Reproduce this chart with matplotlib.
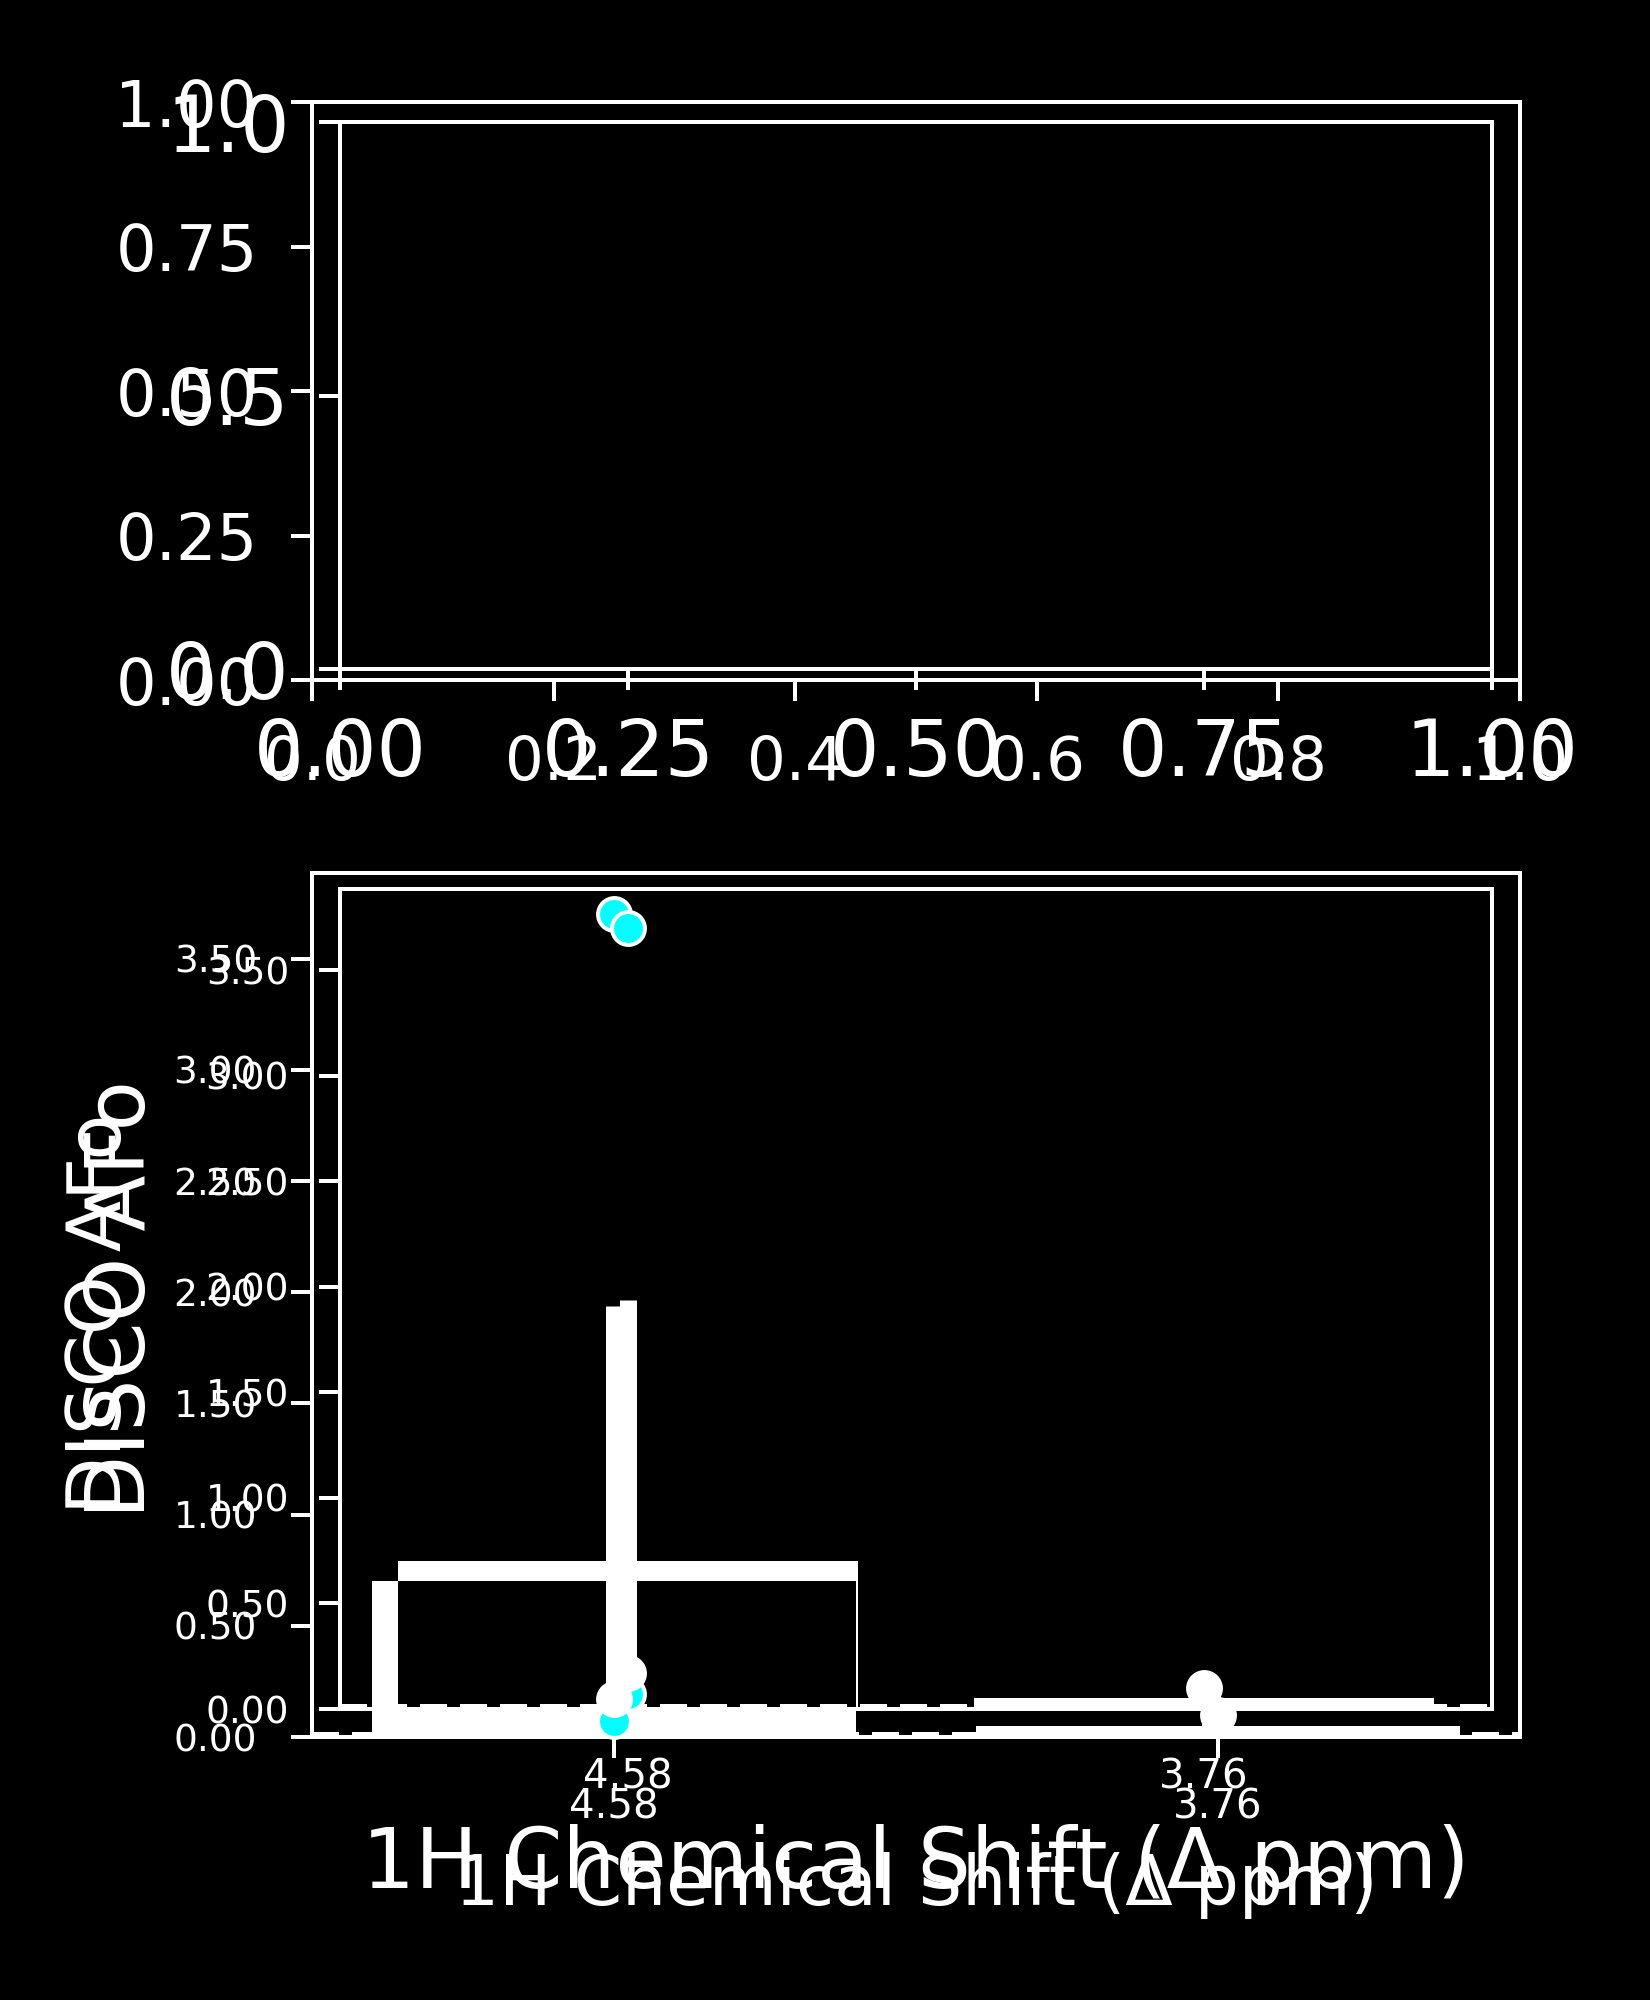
import numpy as np
import matplotlib.pyplot as plt
from matplotlib.ticker import FormatStrFormatter

PX = 0.72  # points per pixel at dpi 100
W, H = 1650, 2000

# bottom panel data
categories = ["4.58", "3.76"]
bar_means = [0.70, 0.05]
ci_low = [-0.54, 0.00]
ci_high = [1.94, 0.10]
red_pos = [0, 0]
red_vals = [3.70, 0.07]
black_pos = [0, 1]
black_vals = [0.17, 0.10]
bottom_yticks = [0.0, 0.5, 1.0, 1.5, 2.0, 2.5, 3.0, 3.5]

# top panel ticks (empty axes)
top_xticks_a = [0.0, 0.2, 0.4, 0.6, 0.8, 1.0]
top_yticks_a = [0.0, 0.25, 0.5, 0.75, 1.0]
top_xticks_b = [0.0, 0.25, 0.5, 0.75, 1.0]
top_yticks_b = [0.0, 0.5, 1.0]

xlabel = "1H Chemical Shift (Δ ppm)"
ylabel = "DISCO AFo"


def px_rect(l, t, r, b):
    return [l / W, 1 - b / H, (r - l) / W, (b - t) / H]


def style(ax, xsize, ysize, xpad, ypad):
    ax.set_facecolor('none')
    for s in ax.spines.values():
        s.set_color('white')
        s.set_linewidth(4 * PX)
    ax.tick_params(colors='white', length=21 * PX, width=4 * PX)
    ax.tick_params(axis='x', labelsize=xsize, pad=xpad)
    ax.tick_params(axis='y', labelsize=ysize, pad=ypad)


fig = plt.figure(figsize=(W / 100, H / 100), dpi=100, facecolor='black')

axA_top = fig.add_axes(px_rect(312, 102, 1520, 680))
axA_bot = fig.add_axes(px_rect(312, 873, 1520, 1737))
axB_top = fig.add_axes(px_rect(340, 122, 1492, 669))
axB_bot = fig.add_axes(px_rect(340, 889, 1492, 1709))

# top panels
style(axA_top, 44, 46, 24, 24)
axA_top.set_xticks(top_xticks_a)
axA_top.set_yticks(top_yticks_a)
axA_top.xaxis.set_major_formatter(FormatStrFormatter('%.1f'))
axA_top.yaxis.set_major_formatter(FormatStrFormatter('%.2f'))

style(axB_top, 56, 56, 19, 21)
axB_top.set_xticks(top_xticks_b)
axB_top.set_yticks(top_yticks_b)
axB_top.xaxis.set_major_formatter(FormatStrFormatter('%.2f'))
axB_top.yaxis.set_major_formatter(FormatStrFormatter('%.1f'))

for ax in (axA_top, axB_top):
    ax.set_xlim(0, 1)
    ax.set_ylim(0, 1)

# bottom panels
x = np.arange(len(categories))
ytop = max(red_vals + black_vals) * 1.05
style(axA_bot, 29, 27, 21, 24.5)
style(axB_bot, 29, 27, 20, 21.6)
for ax in (axA_bot, axB_bot):
    ax.set_xticks(x)
    ax.set_xticklabels(categories)
    ax.set_yticks(bottom_yticks)
    ax.yaxis.set_major_formatter(FormatStrFormatter('%.2f'))
    ax.axhline(0, color='white', ls='--', lw=10 * PX, dashes=(2.7, 1.3), zorder=2)

axA_bot.set_xlabel(xlabel, fontsize=50, color='white', va='center')
axA_bot.xaxis.set_label_coords(0.5, -0.172)
axA_bot.set_ylabel(ylabel, fontsize=54, color='white', va='center')
axA_bot.yaxis.set_label_coords(-0.1747, 0.49)
axB_bot.set_xlabel(xlabel, fontsize=60, color='white', va='center')
axB_bot.xaxis.set_label_coords(0.5, -0.190)
axB_bot.set_ylabel(ylabel, fontsize=59, color='white', va='center')
axB_bot.yaxis.set_label_coords(-0.1884, 0.5)

# data marks for both renders live in the last axes so they stack on top
host = axB_bot
renders = (axA_bot, axB_bot)
bars = {}
for ax in renders:
    bc = host.bar(x, bar_means, width=0.8, color='white', edgecolor='none',
                  transform=ax.transData, zorder=1)
    for r in bc:
        r.set_clip_path(ax.patch)
    bars[ax] = bc

# where the two renders' bars overlap, the picture goes dark
holes = host.bar(x, bar_means, width=0.8, color='black', edgecolor='none',
                 transform=axB_bot.transData, zorder=1.5)
for h, ra in zip(holes, bars[axA_bot]):
    h.set_clip_path(ra)

for ax in renders:
    lc = host.vlines(x, ci_low, ci_high, colors='white', linewidth=17 * PX,
                     transform=ax.transData, zorder=3)
    lc.set_clip_path(ax.patch)

for ax in renders:
    host.scatter(red_pos, red_vals, s=560, c='#00ffff', edgecolors='white',
                 linewidths=4 * PX, transform=ax.transData, zorder=4, clip_on=False)
for ax in renders:
    host.scatter(black_pos, black_vals, s=560, c='white', edgecolors='white',
                 linewidths=4 * PX, transform=ax.transData, zorder=5, clip_on=False)

for ax in renders:
    ax.set_xlim(-0.5, len(categories) - 0.5)
    ax.set_ylim(0, ytop)

fig.savefig('out.png', dpi=100, facecolor='black')
